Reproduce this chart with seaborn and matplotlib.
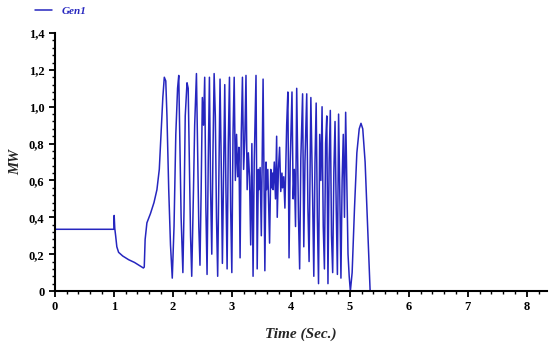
import matplotlib
matplotlib.use("Agg")
import matplotlib.pyplot as plt
from matplotlib.ticker import MultipleLocator, FuncFormatter
import seaborn as sns
import pandas as pd

# ─── Dane ───────────────────────────────────────────────────────────
# przed zwarciem / spadek po zwarciu / narastanie
t_pre = [0.00, 1.00, 1.005, 1.015, 1.03, 1.05, 1.08, 1.15, 1.25, 1.35, 1.45, 1.50,
         1.515, 1.53, 1.56, 1.62, 1.68, 1.73, 1.77, 1.80, 1.83, 1.855, 1.88, 1.90,
         1.93, 1.96, 1.99]
mw_pre = [0.335, 0.335, 0.41, 0.34, 0.30, 0.24, 0.21, 0.19, 0.17, 0.155, 0.135, 0.125,
          0.13, 0.28, 0.37, 0.42, 0.48, 0.55, 0.66, 0.85, 1.05, 1.16, 1.14, 0.95,
          0.55, 0.25, 0.07]

# duże kołysania 2.0 - 3.4 s
t_swing = [2.02, 2.05, 2.08, 2.10, 2.12, 2.14, 2.17, 2.19, 2.21, 2.24, 2.26, 2.28,
           2.30, 2.32, 2.35, 2.37, 2.40, 2.42, 2.44, 2.46, 2.48, 2.50, 2.52, 2.54,
           2.56, 2.58, 2.60, 2.62, 2.64, 2.66, 2.68, 2.70, 2.72, 2.74, 2.76, 2.78,
           2.80, 2.82, 2.84, 2.86, 2.88, 2.90, 2.92, 2.94, 2.96, 2.98, 3.00, 3.02,
           3.04, 3.06, 3.08, 3.10, 3.12, 3.14, 3.16, 3.18, 3.20, 3.22, 3.24, 3.26,
           3.28, 3.30, 3.32, 3.34, 3.36, 3.38]
mw_swing = [0.35, 0.85, 1.10, 1.17, 0.80, 0.40, 0.10, 0.45, 0.95, 1.13, 1.10, 0.70,
            0.30, 0.08, 0.55, 0.90, 1.18, 0.75, 0.35, 0.14, 0.55, 1.05, 0.90, 1.16,
            0.45, 0.09, 0.70, 1.16, 0.55, 0.20, 0.75, 1.18, 0.95, 0.40, 0.08, 0.60,
            1.15, 0.70, 0.15, 0.62, 1.12, 0.55, 0.12, 0.80, 1.16, 0.45, 0.10, 0.85,
            1.16, 0.60, 0.85, 0.62, 0.78, 0.18, 0.85, 1.16, 0.66, 0.82, 1.17, 0.55,
            0.75, 0.62, 0.25, 0.80, 0.08, 0.70]

# gęsty obszar ~0.6 MW z pojedynczymi skokami 3.4 - 4.4 s
t_dense = [3.41, 3.43, 3.45, 3.46, 3.48, 3.50, 3.53, 3.56, 3.58, 3.59, 3.61, 3.62,
           3.64, 3.66, 3.67, 3.69, 3.70, 3.72, 3.74, 3.76, 3.77, 3.79, 3.81, 3.83,
           3.85, 3.86, 3.88, 3.90, 3.93, 3.95, 3.97, 3.99, 4.02, 4.04, 4.06, 4.08,
           4.10, 4.13, 4.15, 4.17, 4.20, 4.22, 4.24, 4.27, 4.29, 4.31, 4.34]
mw_dense = [1.17, 0.12, 0.66, 0.55, 0.67, 0.30, 1.15, 0.11, 0.70, 0.55, 0.66, 0.52,
            0.26, 0.66, 0.56, 0.64, 0.55, 0.70, 0.50, 0.84, 0.40, 0.66, 0.78, 0.54,
            0.64, 0.56, 0.62, 0.45, 0.90, 1.08, 0.18, 0.70, 1.08, 0.50, 0.66, 0.35,
            1.10, 0.40, 0.12, 0.72, 1.07, 0.24, 0.70, 1.07, 0.45, 0.16, 1.05]

# końcowe kołysania i utrata synchronizmu
t_end = [4.37, 4.39, 4.41, 4.43, 4.45, 4.47, 4.49, 4.51, 4.53, 4.55, 4.57, 4.59,
         4.61, 4.63, 4.65, 4.67, 4.69, 4.71, 4.73, 4.75, 4.77, 4.79, 4.81, 4.83,
         4.85, 4.87, 4.89, 4.91, 4.93, 4.95, 4.97, 4.99, 5.01, 5.04, 5.08, 5.12,
         5.16, 5.19, 5.22, 5.26, 5.29, 5.32, 5.345]
mw_end = [0.50, 0.08, 0.70, 1.02, 0.40, 0.04, 0.85, 0.60, 1.00, 0.35, 0.12, 0.80,
          0.95, 0.04, 0.70, 0.98, 0.30, 0.10, 0.65, 0.92, 0.45, 0.09, 0.96, 0.55,
          0.07, 0.60, 0.85, 0.40, 0.97, 0.60, 0.20, 0.08, 0.00, 0.10, 0.45, 0.75,
          0.88, 0.91, 0.88, 0.70, 0.45, 0.20, 0.00]

x_ticks = [0, 1, 2, 3, 4, 5, 6, 7, 8]
y_ticks = [0, 0.2, 0.4, 0.6, 0.8, 1.0, 1.2, 1.4]

df = pd.DataFrame({
    "t": t_pre + t_swing + t_dense + t_end,
    "MW": mw_pre + mw_swing + mw_dense + mw_end,
})

# ─── Styl ────────────────────────────────────────────────────────────
sns.set_style("ticks")
plt.rcParams["font.family"] = ["Liberation Serif", "DejaVu Serif"]
BLUE = "#2626bf"

fig = plt.figure(figsize=(5.49, 3.44), dpi=100)
ax = fig.add_axes([0.100, 0.154, 0.897, 0.750])

sns.lineplot(data=df, x="t", y="MW", ax=ax, sort=False, estimator=None,
             color=BLUE, linewidth=1.1, label="Gen1", legend=False)

ax.set_xlim(0, 8.35)
ax.set_ylim(0, 1.4)
ax.set_xticks(x_ticks)
ax.set_yticks(y_ticks)
ax.xaxis.set_minor_locator(MultipleLocator(0.2))
ax.yaxis.set_minor_locator(MultipleLocator(0.04))
ax.yaxis.set_major_formatter(FuncFormatter(
    lambda v, p: "0" if v == 0 else f"{v:.1f}".replace(".", ",")))

for s in ["top", "right"]:
    ax.spines[s].set_visible(False)
for s in ["left", "bottom"]:
    ax.spines[s].set_linewidth(1.5)
    ax.spines[s].set_color("black")

ax.tick_params(which="major", length=4, width=1.3, labelsize=9, colors="black")
ax.tick_params(which="minor", length=2.5, width=1.0, colors="black")
for lab in ax.get_xticklabels() + ax.get_yticklabels():
    lab.set_fontweight("bold")

ax.set_xlabel("Time (Sec.)", fontsize=11, fontweight="bold", fontstyle="italic",
              labelpad=10)
ax.set_ylabel("MW", fontsize=10.5, fontweight="bold", fontstyle="italic", labelpad=5)

fig.legend(loc="upper left", bbox_to_anchor=(0.045, 1.01), frameon=False,
           handlelength=1.6, handletextpad=0.8, labelcolor=BLUE,
           prop={"style": "italic", "weight": "bold", "size": 8})

fig.savefig("out.png", dpi=100)
